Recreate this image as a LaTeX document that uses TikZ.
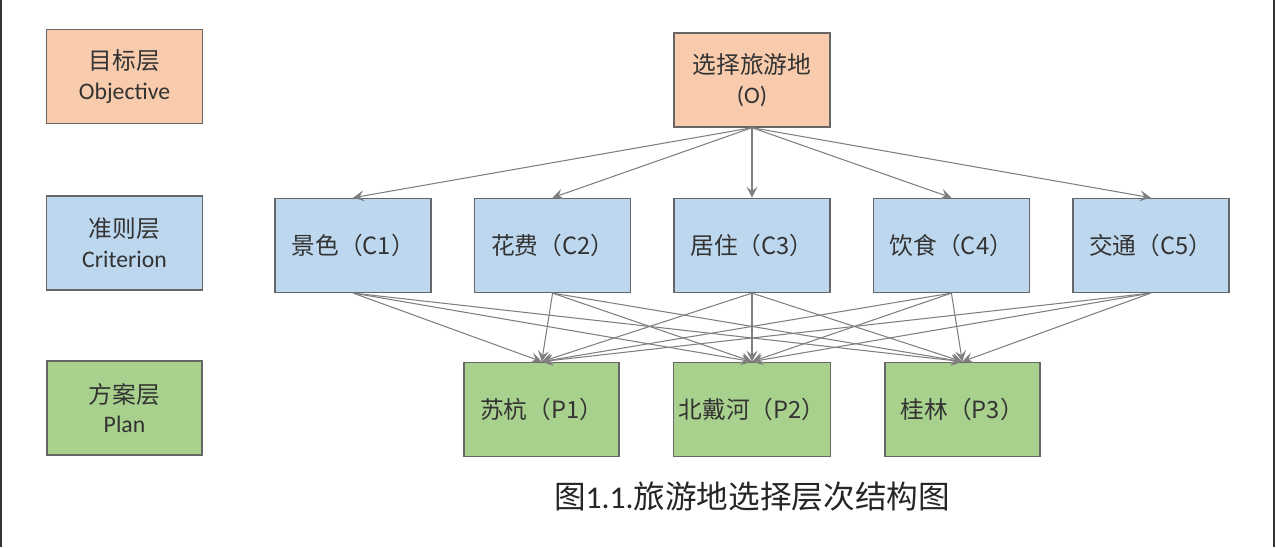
\documentclass[tikz,border=0pt]{standalone}
\usepackage{fontspec}
\setmainfont{Carlito}
\newfontfamily\cjk{Noto Sans CJK SC}
\usetikzlibrary{arrows.meta,positioning}
\definecolor{goalfill}{HTML}{F8CBAD}
\definecolor{critfill}{HTML}{BDD7EE}
\definecolor{planfill}{HTML}{A9D18E}
\definecolor{edgegray}{HTML}{7F7F7F}

\begin{document}
\begin{tikzpicture}[inner sep=1mm,
  box/.style={rectangle,draw=black!60,line width=0.8pt,minimum width=3.12cm,
    minimum height=1.88cm,align=center,text=black!80,
    font=\fontsize{13.5}{17}\selectfont},
  goal/.style={box,fill=goalfill},
  crit/.style={box,fill=critfill},
  plan/.style={box,fill=planfill,minimum width=3.1cm},
  link/.style={-{Stealth[length=2.2mm,width=2.2mm,inset=0.9mm]},draw=edgegray,line width=0.6pt}]
  \useasboundingbox (0,0) rectangle (25.52,10.94);
  \draw[line width=1.2pt,black!80] (0.02,0) -- (0.02,10.94);
  \draw[line width=1.2pt,black!80] (25.48,0) -- (25.48,10.94);
  % layer names
  \node[goal] (goalname) at (2.49,9.41) {{\cjk 目标层}\\Objective};
  \node[crit] (critname) at (2.49,6.08) {{\cjk 准则层}\\Criterion};
  \node[plan] (planname) at (2.49,2.78) {{\cjk 方案层}\\Plan};
  % hierarchy
  \node[goal] (O) at (15.04,9.34) {{\cjk 选择旅游地}\\(O)};
  \node[crit] (C3) [below=1.4cm of O] {\cjk 居住（C3）};
  \node[crit] (C2) [left=0.84cm of C3] {\cjk 花费（C2）};
  \node[crit] (C1) [left=0.84cm of C2] {\cjk 景色（C1）};
  \node[crit] (C4) [right=0.84cm of C3] {\cjk 饮食（C4）};
  \node[crit] (C5) [right=0.84cm of C4] {\cjk 交通（C5）};
  \node[plan] (P2) [below=1.37cm of C3] {\cjk 北戴河（P2）};
  \node[plan] (P1) [left=1.06cm of P2] {\cjk 苏杭（P1）};
  \node[plan] (P3) [right=1.06cm of P2] {\cjk 桂林（P3）};
  \node[font=\fontsize{18}{20}\selectfont,text=black!85] (caption) [below=0.4cm of P2]
    {{\cjk 图}1.1.{\cjk 旅游地选择层次结构图}};
  \foreach \crit in {C1,C2,C3,C4,C5} {
    \draw[link] (O.south) -- (\crit.north);
    \foreach \pl in {P1,P2,P3}
      \draw[link] (\crit.south) -- (\pl.north);
  }
\end{tikzpicture}
\end{document}
